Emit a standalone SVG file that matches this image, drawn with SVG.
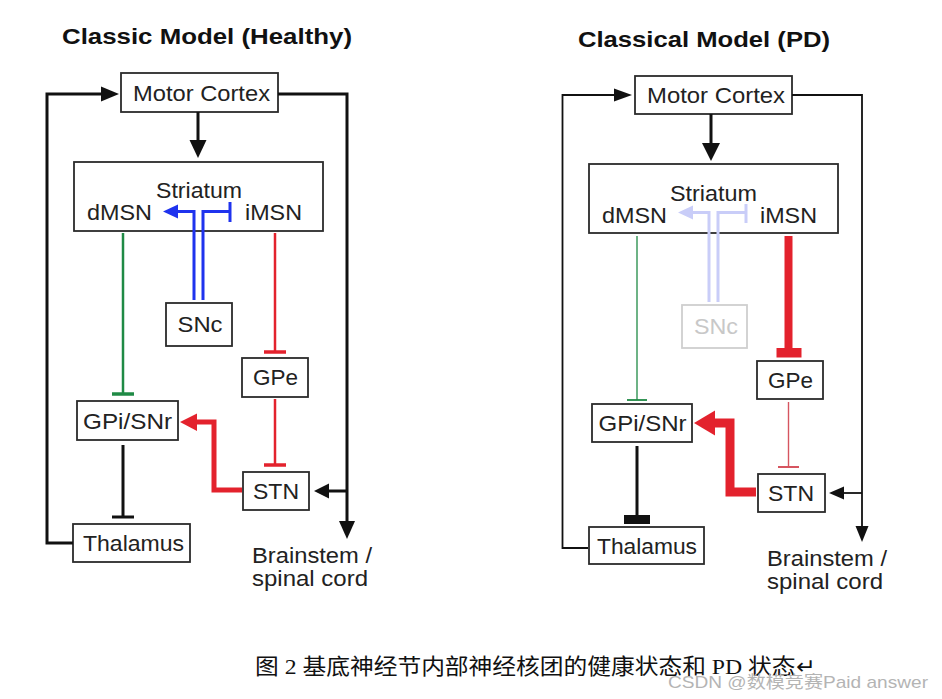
<svg xmlns="http://www.w3.org/2000/svg" width="942" height="699" viewBox="0 0 942 699">
<style>
.bg{fill:#ffffff}
.box{fill:#ffffff;stroke:#2b2b2b;stroke-width:1.8}
.pale{fill:#ffffff;stroke:#cfcfcf;stroke-width:1.8}
.t{font-family:"Liberation Sans",Arial,sans-serif;font-size:21.5px;fill:#222222;text-anchor:middle}
.tl{font-family:"Liberation Sans",Arial,sans-serif;font-size:21.5px;fill:#222222}
.title{font-family:"Liberation Sans",Arial,sans-serif;font-size:22px;font-weight:bold;fill:#111111;text-anchor:middle}
.paletext{fill:#c8c8c8}
.ln{fill:none;stroke-linejoin:miter;stroke-linecap:butt}
.k3{stroke:#111111;stroke-width:3}
.k2{stroke:#111111;stroke-width:1.8}
.kf{fill:#111111}
.blue{stroke:#1f33ee;stroke-width:3}
.bluef{fill:#1f33ee}
.pblue{stroke:#c9cdf8;stroke-width:3}
.pbluef{fill:#c9cdf8}
.green{stroke:#1f8a45}
.red{stroke:#e3222d}
.redf{fill:#e3222d}
.red2{stroke:#d65560}
.cap{font-family:"Liberation Serif","Noto Sans CJK SC",serif;font-size:22px;fill:#111111}
.wm{font-family:"Liberation Sans","Noto Sans CJK SC",sans-serif;font-size:17px;fill:#b4b4b4}
</style>
<rect class="bg" x="0" y="0" width="942" height="699"/>

<text class="title" x="207" y="44" textLength="290" lengthAdjust="spacingAndGlyphs">Classic Model (Healthy)</text>
<text class="title" x="704" y="47" textLength="252" lengthAdjust="spacingAndGlyphs">Classical Model (PD)</text>

<!-- left panel nodes -->
<g id="motor-cortex-healthy">
  <rect class="box" x="121" y="73" width="157" height="39"/>
  <text class="t" x="201.5" y="100.5" textLength="137" lengthAdjust="spacingAndGlyphs">Motor Cortex</text>
</g>
<g id="striatum-healthy">
  <rect class="box" x="74" y="162" width="249" height="69"/>
  <text class="t" x="199" y="198" textLength="86" lengthAdjust="spacingAndGlyphs">Striatum</text>
  <text class="t" x="119.5" y="220" textLength="65" lengthAdjust="spacingAndGlyphs">dMSN</text>
  <text class="t" x="273.5" y="220" textLength="57" lengthAdjust="spacingAndGlyphs">iMSN</text>
</g>
<g id="snc-healthy">
  <rect class="box" x="166" y="303" width="66" height="43"/>
  <text class="t" x="200" y="332" textLength="45" lengthAdjust="spacingAndGlyphs">SNc</text>
</g>
<g id="gpe-healthy">
  <rect class="box" x="242" y="358" width="66" height="39"/>
  <text class="t" x="275.5" y="385" textLength="45" lengthAdjust="spacingAndGlyphs">GPe</text>
</g>
<g id="stn-healthy">
  <rect class="box" x="243" y="472" width="66" height="38"/>
  <text class="t" x="276" y="498.5" textLength="46" lengthAdjust="spacingAndGlyphs">STN</text>
</g>
<g id="gpi-snr-healthy">
  <rect class="box" x="77" y="401" width="101" height="39"/>
  <text class="t" x="127.5" y="428.5" textLength="89" lengthAdjust="spacingAndGlyphs">GPi/SNr</text>
</g>
<g id="thalamus-healthy">
  <rect class="box" x="73" y="524" width="117" height="38"/>
  <text class="t" x="133.5" y="551" textLength="101" lengthAdjust="spacingAndGlyphs">Thalamus</text>
</g>
<g id="brainstem-healthy">
  <text class="tl" x="252" y="563" textLength="120" lengthAdjust="spacingAndGlyphs">Brainstem /</text>
  <text class="tl" x="252" y="586" textLength="116" lengthAdjust="spacingAndGlyphs">spinal cord</text>
</g>

<!-- right panel nodes -->
<g id="motor-cortex-pd">
  <rect class="box" x="635" y="76" width="157" height="38"/>
  <text class="t" x="716" y="103" textLength="138" lengthAdjust="spacingAndGlyphs">Motor Cortex</text>
</g>
<g id="striatum-pd">
  <rect class="box" x="589" y="164" width="249" height="69"/>
  <text class="t" x="713.5" y="201" textLength="87" lengthAdjust="spacingAndGlyphs">Striatum</text>
  <text class="t" x="634.5" y="223" textLength="65" lengthAdjust="spacingAndGlyphs">dMSN</text>
  <text class="t" x="788.5" y="223" textLength="57" lengthAdjust="spacingAndGlyphs">iMSN</text>
</g>
<g id="snc-pd">
  <rect class="pale" x="682" y="305" width="65" height="43"/>
  <text class="t paletext" x="716" y="334" textLength="44" lengthAdjust="spacingAndGlyphs">SNc</text>
</g>
<g id="gpe-pd">
  <rect class="box" x="757" y="361" width="66" height="38"/>
  <text class="t" x="790.5" y="388" textLength="45" lengthAdjust="spacingAndGlyphs">GPe</text>
</g>
<g id="stn-pd">
  <rect class="box" x="758" y="474" width="67" height="38"/>
  <text class="t" x="791" y="501" textLength="46" lengthAdjust="spacingAndGlyphs">STN</text>
</g>
<g id="gpi-snr-pd">
  <rect class="box" x="592" y="404" width="100" height="38"/>
  <text class="t" x="642.5" y="431" textLength="88" lengthAdjust="spacingAndGlyphs">GPi/SNr</text>
</g>
<g id="thalamus-pd">
  <rect class="box" x="589" y="527" width="115" height="37"/>
  <text class="t" x="647" y="553.5" textLength="100" lengthAdjust="spacingAndGlyphs">Thalamus</text>
</g>
<g id="brainstem-pd">
  <text class="tl" x="767" y="566" textLength="120" lengthAdjust="spacingAndGlyphs">Brainstem /</text>
  <text class="tl" x="767" y="589" textLength="116" lengthAdjust="spacingAndGlyphs">spinal cord</text>
</g>

<g id="connectors">
  <!-- left panel -->
  <path class="ln k3" d="M73,543 H47 V94 H103"/>
  <polygon class="kf" points="119,94 101,86.5 101,101.5"/>
  <path class="ln k3" d="M278,94 H347 V522"/>
  <polygon class="kf" points="347,539 339,521 355,521"/>
  <path class="ln k3" d="M347,491 H328"/>
  <polygon class="kf" points="314,491 329,483.5 329,498.5"/>
  <path class="ln k3" d="M198,112 V141"/>
  <polygon class="kf" points="198,158 189.5,140 206.5,140"/>
  <path class="ln blue" d="M194,300 V211.5 H176"/>
  <polygon class="bluef" points="163,211.5 178,204.5 178,218.5"/>
  <path class="ln blue" d="M203,300 V211.5 H230"/>
  <path class="ln blue" stroke-width="4" d="M230,202 V222"/>
  <path class="ln green" stroke-width="2.5" d="M123,233 V394"/>
  <path class="ln green" stroke-width="3.5" d="M112,394 H134"/>
  <path class="ln red" stroke-width="2.5" d="M275,233 V352"/>
  <path class="ln red" stroke-width="3.5" d="M264,352 H286"/>
  <path class="ln red" stroke-width="2.5" d="M275,399 V465"/>
  <path class="ln red" stroke-width="3.5" d="M264,465 H286"/>
  <path class="ln red" stroke-width="5" d="M242,490 H214 V422 H194"/>
  <polygon class="redf" points="180,422 197,413.5 197,431"/>
  <path class="ln k3" d="M123,445 V517"/>
  <path class="ln k3" stroke-width="4.5" d="M112,517 H134"/>

  <!-- right panel -->
  <path class="ln k2" d="M588,548 H562.5 V95 H616"/>
  <polygon class="kf" points="632,95 614,88.5 614,101.5"/>
  <path class="ln k2" d="M792,95 H862 V528"/>
  <polygon class="kf" points="862,542 855.5,526 868.5,526"/>
  <path class="ln k2" d="M862,493 H843"/>
  <polygon class="kf" points="829,493 844,486.5 844,499.5"/>
  <path class="ln k3" stroke-width="4.5" d="M711,114 V144"/>
  <polygon class="kf" points="711,161 702,143 720,143"/>
  <path class="ln pblue" d="M709,302 V212.5 H692"/>
  <polygon class="pbluef" points="678,212.5 693,205.5 693,219.5"/>
  <path class="ln pblue" d="M718,302 V212.5 H746"/>
  <path class="ln pblue" stroke-width="4" d="M746,204 V223"/>
  <path class="ln green" stroke-width="1.3" d="M637,236 V400"/>
  <path class="ln green" stroke-width="1.8" d="M627,400 H647"/>
  <path class="ln red" stroke-width="8" d="M788.5,236 V350"/>
  <rect class="redf" x="776.5" y="348" width="25" height="9.5"/>
  <path class="ln red2" stroke-width="1.4" d="M788.5,402 V467"/>
  <path class="ln red2" stroke-width="2" d="M778,467 H799"/>
  <path class="ln red" stroke-width="9" d="M756,492 H730 V423 H712"/>
  <polygon class="redf" points="694,423 715,410.5 715,435.5"/>
  <path class="ln k3" stroke-width="8" d="M637,446 V517"/>
  <rect class="kf" x="624" y="515" width="26" height="9"/>
</g>

<text class="cap" x="255" y="674" textLength="560" lengthAdjust="spacingAndGlyphs">图 2 基底神经节内部神经核团的健康状态和 PD 状态↵</text>
<text class="wm" x="668" y="688" textLength="260" lengthAdjust="spacingAndGlyphs">CSDN @数模竞赛Paid answer</text>
</svg>
